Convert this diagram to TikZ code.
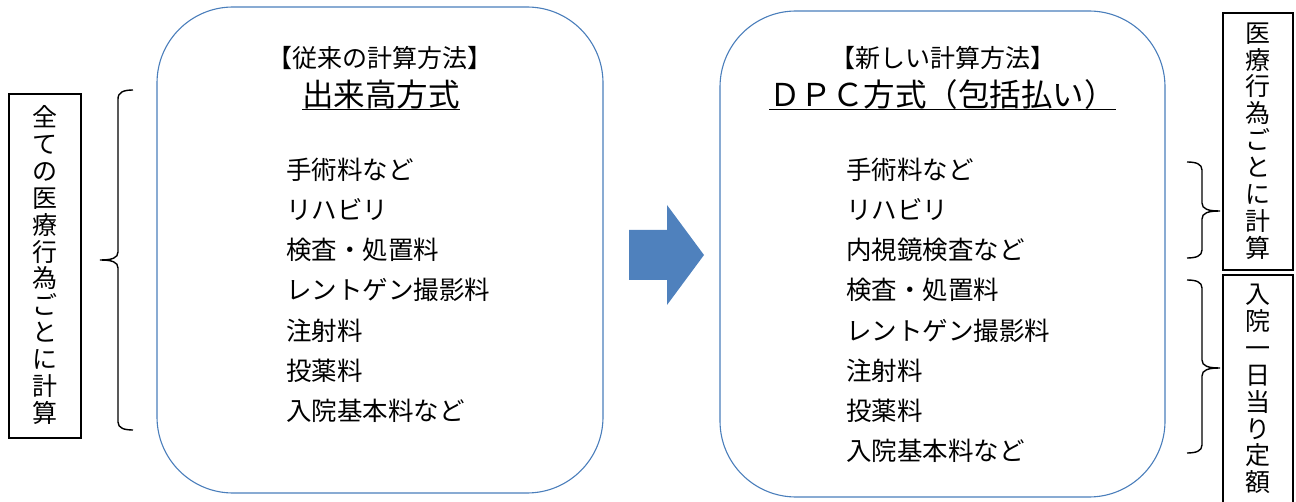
\documentclass[tikz,border=0pt]{standalone}
\usepackage{fontspec}
\setmainfont{Noto Sans CJK JP}
\definecolor{boxblue}{HTML}{4A7EBB}
\definecolor{arrowblue}{HTML}{4F81BD}
\begin{document}
\begin{tikzpicture}[x=1pt,y=-1pt,
  roundbox/.style={draw=boxblue, line width=1.1pt, rounded corners=76pt, inner sep=0pt},
  blackbox/.style={draw=black, line width=1.3pt, inner sep=0pt},
  brace/.style={draw=black, line width=1.4pt},
  ttl/.style={font=\fontsize{25}{28}\selectfont, anchor=base, inner sep=0pt},
  maintitle/.style={font=\fontsize{31.5}{36}\selectfont, anchor=base, inner sep=0pt},
  item/.style={font=\fontsize{25.5}{30}\selectfont, anchor=base west, inner sep=0pt},
  vtext/.style={font=\fontsize{25}{26.9}\selectfont, align=center, inner sep=0pt}
]
\useasboundingbox (0,0) rectangle (1296,502);
\clip (0,0) rectangle (1296,502);

% rounded boxes
\node[roundbox, minimum width=446pt, minimum height=486pt] (oldbox) at (380,250) {};
\node[roundbox, minimum width=445pt, minimum height=486pt] (newbox) at (942.5,254) {};

% titles (baseline positions)
\node[ttl] (oldttl) at (380,68) {【従来の計算方法】};
\node[maintitle] (oldmain) at (381,107) {出来高方式};
\draw[line width=1.5pt] ([yshift=-2.5pt]oldmain.base west) -- ([yshift=-2.5pt]oldmain.base east);
\node[ttl] (newttl) at (942.5,68) {【新しい計算方法】};
\node[maintitle] (newmain) at (942.5,107) {ＤＰＣ方式（包括払い）};
\draw[line width=1.5pt] ([yshift=-2.5pt]newmain.base west) -- ([yshift=-2.5pt]newmain.base east);

% old items
\node[item] (o1) at (286,179.7) {手術料など};
\node[item] (o2) at (286,219.8) {リハビリ};
\node[item] (o3) at (286,259.9) {検査・処置料};
\node[item] (o4) at (286,300.0) {レントゲン撮影料};
\node[item] (o5) at (286,340.1) {注射料};
\node[item] (o6) at (286,380.2) {投薬料};
\node[item] (o7) at (286,420.3) {入院基本料など};

% new items
\node[item] (n1) at (846,179.7) {手術料など};
\node[item] (n2) at (846,219.8) {リハビリ};
\node[item] (n3) at (846,259.9) {内視鏡検査など};
\node[item] (n4) at (846,300.0) {検査・処置料};
\node[item] (n5) at (846,340.1) {レントゲン撮影料};
\node[item] (n6) at (846,380.2) {注射料};
\node[item] (n7) at (846,420.3) {投薬料};
\node[item] (n8) at (846,460.4) {入院基本料など};

% block arrow
\fill[arrowblue] (629,230) -- (667,230) -- (667,205) -- (704,255) -- (667,305) -- (667,280) -- (629,280) -- cycle;

% left label box
\node[blackbox, minimum width=72pt, minimum height=344pt] (leftbox) at (45,266) {};
\node[vtext] (lefttxt) at (45,265) {全\\て\\の\\医\\療\\行\\為\\ご\\と\\に\\計\\算};

% left brace
\draw[brace] (133,90) .. controls (124,90) and (118,92) .. (118,99) -- (118,252)
  .. controls (118,258) and (112,260) .. (100,260)
  .. controls (112,260) and (118,262) .. (118,268) -- (118,422)
  .. controls (118,428) and (124,430) .. (133,430);

% right label boxes
\node[blackbox, minimum width=70pt, minimum height=257pt] (rtop) at (1258,141.5) {};
\node[blackbox, minimum width=70pt, minimum height=245pt] (rbot) at (1258,397.5) {};
\node[vtext] (rtoptxt) at (1258,141) {医\\療\\行\\為\\ご\\と\\に\\計\\算};
\node[vtext] (rbottxt) at (1258,389) {入\\院\\一\\日\\当\\り\\定\\額};

% right braces
\draw[brace] (1187,162) .. controls (1196,162) and (1202,164) .. (1202,170) -- (1202,203)
  .. controls (1202,209) and (1208,211) .. (1220,211)
  .. controls (1208,211) and (1202,213) .. (1202,219) -- (1202,250)
  .. controls (1202,256) and (1196,258) .. (1187,258);
\draw[brace] (1187,280) .. controls (1196,280) and (1202,282) .. (1202,288) -- (1202,360)
  .. controls (1202,366) and (1208,368) .. (1220,368)
  .. controls (1208,368) and (1202,370) .. (1202,376) -- (1202,445)
  .. controls (1202,451) and (1196,453) .. (1187,453);
\end{tikzpicture}
\end{document}
